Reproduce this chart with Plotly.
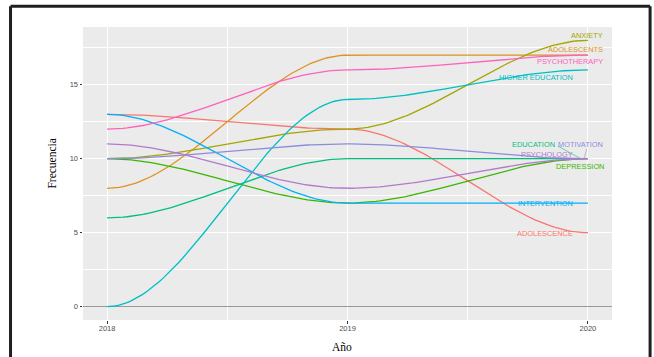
import numpy as np
import plotly.graph_objects as go

# ---- data ----
years = [2018, 2019, 2020]
series_names = ["ADOLESCENCE", "ADOLESCENTS", "ANXIETY", "DEPRESSION", "EDUCATION",
                "HIGHER EDUCATION", "INTERVENTION", "MOTIVATION", "PSYCHOLOGY", "PSYCHOTHERAPY"]
adolescence = [13, 12, 5]
adolescents = [8, 17, 17]
anxiety = [10, 12, 18]
depression = [10, 7, 10]
education = [6, 10, 10]
higher_education = [0, 14, 16]
intervention = [13, 7, 7]
motivation = [10, 11, 10]
psychology = [11, 8, 10]
psychotherapy = [12, 16, 17]
values = [adolescence, adolescents, anxiety, depression, education,
          higher_education, intervention, motivation, psychology, psychotherapy]
y_ticks = [0, 5, 10, 15]

# ---- styles ----
colors = ["#F8766D", "#DE9320", "#A3A500", "#39B600", "#00BF7D",
          "#00BFC4", "#00B0F6", "#8C8CDC", "#B27ACB", "#FF62BC"]
# label placement (right edge x, y) in data units
label_pos = {
    "ANXIETY": (2020.07, 18.3),
    "ADOLESCENTS": (2020.07, 17.4),
    "PSYCHOTHERAPY": (2020.07, 16.6),
    "HIGHER EDUCATION": (2019.945, 15.5),
    "EDUCATION": (2019.87, 10.95),
    "MOTIVATION": (2020.07, 10.95),
    "PSYCHOLOGY": (2019.945, 10.3),
    "DEPRESSION": (2020.075, 9.5),
    "INTERVENTION": (2019.945, 6.96),
    "ADOLESCENCE": (2019.945, 4.93),
}


def smooth_path(xs, ys, n=60):
    """Render a smooth (zero-slope at knots) path through the given points."""
    px, py = [], []
    for i in range(len(xs) - 1):
        t = np.linspace(0, 1, n, endpoint=(i == len(xs) - 2))
        s = 3 * t ** 2 - 2 * t ** 3
        px.extend(xs[i] + (xs[i + 1] - xs[i]) * t)
        py.extend(ys[i] + (ys[i + 1] - ys[i]) * s)
    return px, py


fig = go.Figure()
for name, vals, col in zip(series_names, values, colors):
    sx, sy = smooth_path(years, vals)
    fig.add_trace(go.Scatter(x=sx, y=sy, mode="lines", name=name,
                             line=dict(color=col, width=1.3), showlegend=False,
                             hoverinfo="skip"))

# repel leader segments
fig.add_trace(go.Scatter(x=[2019.875, 2019.965], y=[10.85, 10.05], mode="lines",
                         line=dict(color=colors[4], width=0.6), showlegend=False, hoverinfo="skip"))
fig.add_trace(go.Scatter(x=[2019.995, 2019.985], y=[10.65, 10.05], mode="lines",
                         line=dict(color=colors[7], width=0.6), showlegend=False, hoverinfo="skip"))

for name, col in zip(series_names, colors):
    lx, ly = label_pos[name]
    fig.add_annotation(x=lx, y=ly, text=name, showarrow=False, xanchor="right",
                       yanchor="middle", font=dict(family="Liberation Sans", size=7.4, color=col))

# axis titles
title_font = dict(family="Liberation Serif", size=11.5, color="black")
fig.add_annotation(xref="paper", yref="paper", x=0.4887, y=-0.093, text="Año",
                   showarrow=False, xanchor="center", yanchor="middle", font=title_font)
fig.add_annotation(xref="paper", yref="paper", x=-0.058, y=0.535, text="Frecuencia",
                   textangle=-90, showarrow=False, xanchor="center", yanchor="middle", font=title_font)

# frame around the picture
frame = dict(color="#1f1f1f", width=3)
fig.add_shape(type="line", xref="paper", yref="paper", x0=-0.137, x1=-0.137, y0=-0.2, y1=1.071, line=frame)
fig.add_shape(type="line", xref="paper", yref="paper", x0=1.072, x1=1.072, y0=-0.2, y1=1.071, line=frame)
fig.add_shape(type="line", xref="paper", yref="paper", x0=-0.137, x1=1.072, y0=1.071, y1=1.071, line=frame)

fig.update_layout(
    width=654, height=357,
    margin=dict(l=83, r=42, t=27, b=37),
    paper_bgcolor="white", plot_bgcolor="#EBEBEB",
    font=dict(family="Liberation Sans"),
)
fig.update_xaxes(
    range=[2017.9, 2020.1], tickvals=years, ticktext=[str(y) for y in years],
    showgrid=True, gridcolor="white", gridwidth=1.1,
    minor=dict(dtick=0.5, tick0=2018, showgrid=True, gridcolor="white", gridwidth=0.5),
    ticks="outside", ticklen=2.5, tickcolor="#333333", tickwidth=0.8,
    ticklabelstandoff=-2,
    tickfont=dict(size=7.5, color="#4D4D4D"), zeroline=False, showline=False,
    automargin=False,
)
fig.update_yaxes(
    range=[-0.9, 18.9], tickvals=y_ticks,
    showgrid=True, gridcolor="white", gridwidth=1.1,
    minor=dict(dtick=2.5, tick0=0, showgrid=True, gridcolor="white", gridwidth=0.5),
    ticks="outside", ticklen=2.5, tickcolor="#333333", tickwidth=0.8,
    tickfont=dict(size=7.5, color="#4D4D4D"),
    zeroline=True, zerolinecolor="#999999", zerolinewidth=1.2, showline=False,
    automargin=False,
)

fig.write_html("out.html", config={"displayModeBar": False},
               post_script="document.body.style.margin='0px';document.body.style.overflow='hidden';")
